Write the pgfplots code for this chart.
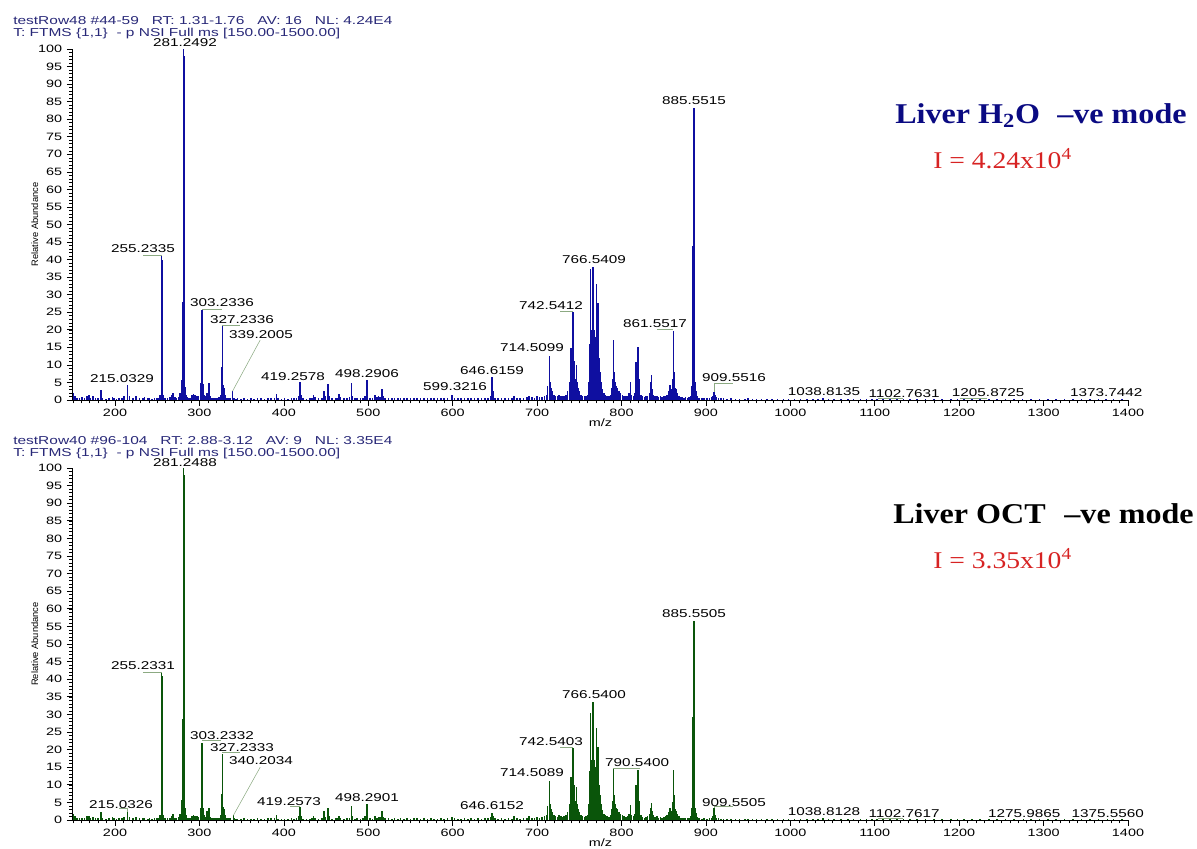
\documentclass[border=0pt]{standalone}
\usepackage{fontspec}
\setmainfont{Liberation Sans}[FakeStretch=1.35]
\newfontfamily\ttlfont{Liberation Serif}[FakeStretch=1.12]
\newfontfamily\ifont{Liberation Serif}[FakeStretch=1.15]
\newfontfamily\ylabfont{Liberation Sans}
\usepackage{pgfplots}
\pgfplotsset{compat=1.18}
\definecolor{specblue}{RGB}{15,15,160}
\definecolor{specgreen}{RGB}{10,85,10}
\definecolor{hdr}{RGB}{40,40,120}
\definecolor{ttlblue}{RGB}{10,10,130}
\definecolor{ired}{RGB}{215,35,35}
\definecolor{lead}{RGB}{140,170,130}
\pgfplotsset{msaxis/.style={
  scale only axis, width=791.4pt, anchor=south west,
  xmin=150, xmax=1400, ymin=0, ymax=100,
  axis x line=bottom, axis y line=left, axis line style={-, line width=0.6pt},
  xtick={200,300,...,1400}, minor xtick={150,160,...,1400},
  ytick={0,5,...,100}, minor ytick={0,1,...,100},
  tick align=outside, major tick length=4.5pt, minor tick length=2.5pt,
  tick style={black, line width=0.5pt}, minor tick style={line width=0.4pt},
  tick label style={font=\fontsize{8}{9}\selectfont},
  xticklabel style={yshift=1.5pt},
  /pgf/number format/assume math mode=true,
  /pgf/number format/1000 sep={},
  scaled ticks=false,
  xlabel={m/z}, xlabel style={font=\fontsize{8}{9}\selectfont, at={(axis description cs:0.5,0)}, anchor=center, yshift=-17pt},
  ylabel={Relative Abundance}, ylabel style={font=\ylabfont\fontsize{7}{8}\selectfont, at={(axis description cs:-0.036,0.5)}, anchor=center},
  clip=false,
}}
\tikzset{pk/.style={font=\fontsize{8.5}{9}\selectfont, inner sep=0pt, anchor=center},
ld/.style={lead, line width=0.4pt}}
\begin{document}
\begin{tikzpicture}
\useasboundingbox (0,0) rectangle (897.75pt,636.75pt);
% ---------------- top panel ----------------
\begin{axis}[msaxis, height=263.25pt, at={(54.6pt,336.75pt)}]
\addplot[ycomb, specblue, line width=1.2pt, no markers] coordinates {
(151,1.9) (152.5,1.2) (155,0.6) (158,0.5) (161,0.8) (164,0.5) (167,1.2) (169,1.5) (171,0.7) (174,1.0) (177,0.6) (180,0.5) (183.1,2.8) (185,0.6) (189,0.4) (193,0.6) (197,0.9) (199,0.5) (202,0.4) (205,0.5) (208,0.6) (211,1.0) (215.03,4.3) (217,1.2) (221,0.6) (225,1.0) (229,0.5) (233,0.6) (235,0.8) (239,0.5) (241,0.7) (244,0.4) (247,0.6) (249,0.5) (251,0.6) (253.2,1.5) (254.9,7) (255.1,16.4) (255.23,41.3) (255.4,40) (255.6,7) (256.24,6.5) (257.2,1.5) (259,0.5) (262,0.6) (265,0.8) (267,1.5) (269,2.0) (271,0.8) (273,0.6) (275,0.9) (277.2,2.0) (279.23,5.7) (279.5,3) (280.3,2.5) (280.6,28) (280.9,68) (281.25,100) (281.6,98) (281.9,20) (282.25,20.9) (282.5,10) (283.26,3.8) (284.3,1.5) (285.5,0.8) (287,0.6) (289,0.7) (291,1.3) (293,1.6) (295,1.5) (297,1.2) (299,1.0) (301.2,4.8) (302,1.5) (303.0,22) (303.23,25.6) (303.5,25) (304.24,4.5) (305.2,1.5) (307,1.0) (309.2,2.0) (311.2,4.7) (312,1.2) (313,1.0) (315,0.6) (317,0.6) (319,0.5) (321,0.6) (323,0.8) (325.2,1.5) (326.8,9.5) (327.23,21.3) (327.5,20.5) (328.24,4.2) (329.2,3.5) (330,1.5) (331,1.0) (333,0.6) (335,0.5) (337,0.6) (339.2,2.5) (341,0.6) (343,0.4) (345,0.5) (349,0.4) (353,0.5) (357,0.4) (361,0.5) (365,0.4) (369,0.6) (373,0.5) (377,0.4) (381,0.5) (385,0.6) (389,0.6) (391.3,1.6) (393,0.5) (397,0.4) (401,0.5) (405,0.4) (409,0.6) (412,0.5) (415,0.6) (417.2,1.2) (419.26,5.2) (420.3,1.5) (423,0.5) (427,0.4) (431,0.5) (433,0.6) (435.2,1.5) (437,0.8) (441,0.5) (445,0.6) (447.3,2.6) (449,1.0) (452.3,4.5) (453.3,1.2) (457,0.5) (461,0.6) (463,0.7) (465.3,1.7) (467,0.8) (471,0.5) (475,0.6) (478,0.8) (480.3,4.7) (481.3,1.2) (484,0.5) (487,0.6) (491,0.5) (494,0.7) (496.3,1.2) (498.29,5.7) (499.3,1.6) (502,0.6) (505,0.5) (508.3,1.5) (510,0.8) (512,1.0) (514,0.9) (516.3,3.1) (517.3,1.0) (520,0.6)
(524,0.7) (528,0.5) (531,0.6) (535,0.5) (538,0.7) (542,0.5) (546,0.6) (550,0.5) (554,0.7) (558,0.6) (562,0.5) (566,0.6) (570,0.5) (574,0.6) (578,0.5) (582,0.5) (586,0.6) (590,0.5) (594,0.6) (599.32,1.5) (602,0.6) (606,0.5) (610,0.5) (614,0.6) (618,0.5) (622,0.7) (626,0.5) (630,0.6) (634,0.5) (638,0.6) (642,0.7) (645,1.0) (646.62,6.5) (647.6,2.5) (650,0.6) (654,0.5) (658,0.6) (662,0.5) (666,0.6) (670,0.5) (672.5,1.2) (676,0.6) (680,0.5) (684,0.7) (688,0.8) (690.5,1.2) (694,0.8) (697,0.7) (700,1.0) (703,0.8) (706,0.9) (709,1.2) (711,1.5) (712.5,4) (714.51,12.5) (715.5,5) (716.5,3.5) (718,2.5) (720,1.5) (722,1.2) (724,1.0) (726,1.5) (728,1.2) (730,1.0) (732,1.2) (734,1.5) (736,2.5) (738.5,5) (740.52,14.7) (741.5,8) (742.54,25.2) (743.5,11) (744.5,10.9) (745.5,6) (746.5,10) (747.5,5) (748.5,3.5) (750,2.5) (752,1.5) (754,1.2) (756,1.0) (758,1.2) (760,1.5) (761.5,5) (762.5,16) (763.5,37.2) (764.5,20) (765.5,18.5) (766.54,38) (767.5,20) (768.5,15) (769.5,18) (770.5,33) (771.5,15) (772.5,27.5) (773.5,12) (774.5,8) (775.5,5) (777,3) (779,2) (781,1.5) (783,1.2) (785,1.0) (787,1.5) (788.5,3.5) (789.5,6) (790.54,17) (791.5,8) (792.5,5) (793.5,4) (795,3.5) (797,2.5) (799,2) (801,1.5) (803,1.2) (805,1.0) (807,1.2) (809,2) (810.5,5.2) (812,1.5) (814,1.2) (816,2) (817.5,10.9) (818.5,8) (819.5,15.2) (820.5,6) (821.5,3) (823,1.5) (825,1) (827,0.8) (829,1.0) (831,1.2) (833,2) (834.5,5) (835.5,7.1) (836.5,3) (838,1.5) (840,1.0) (842,1.2) (844,0.8) (846,1.0) (848,0.8) (850,1.0) (852,1.2) (854,1.5) (856,2.5) (857.5,4.3) (859,3) (860.5,6) (861.55,19.7) (862.5,8) (863.5,3.5) (865,3.0) (866,2) (868,1.2) (870,0.8) (872,0.8) (874,0.6) (876,0.8) (878,0.7) (880,0.8) (882,1.2) (883.5,4) (884.5,12) (884.9,44) (885.2,53) (885.55,83.2) (885.9,81) (886.3,20) (886.7,12) (887.5,5) (888.5,2.5) (890,1.0) (892,0.6) (895,0.5) (898,0.6) (901,0.5) (904,0.6) (907,0.8) (908.5,1.2) (909.55,2.4) (910.5,1.5) (912,0.8) (915,0.6) (918,0.5) (921,0.5) (925,0.4) (930,0.5) (935,0.4) (940,0.3) (946,0.4) (950,0.5) (955,0.3) (960,0.4) (966,0.3) (972,0.3) (978,0.4) (985,0.3) (992,0.3) (998,0.3) (1005,0.3) (1012,0.3) (1020,0.3) (1027,0.3) (1033,0.3) (1038.81,0.7) (1045,0.3) (1052,0.3) (1060,0.3) (1068,0.3) (1075,0.3) (1083,0.3) (1090,0.3) (1097,0.3) (1102.76,0.4) (1110,0.3) (1118,0.3) (1126,0.3) (1134,0.3) (1142,0.3) (1150,0.3) (1160,0.3) (1170,0.3) (1180,0.3) (1190,0.3) (1198,0.3) (1205.87,0.4) (1215,0.3) (1225,0.3) (1235,0.3) (1245,0.3) (1255,0.3) (1265,0.3) (1275,0.3) (1285,0.3) (1295,0.3) (1305,0.3) (1315,0.3) (1325,0.3) (1335,0.3) (1345,0.3) (1355,0.3) (1365,0.3) (1373.74,0.4) (1383,0.3) (1393,0.3)
};
% leaders
\draw[ld] (axis cs:233,41.3) -- (axis cs:255.2,41.3);
\draw[ld] (axis cs:303.2,25.9) -- (axis cs:326.4,25.9);
\draw[ld] (axis cs:327.2,21.2) -- (axis cs:348,21.2);
\draw[ld] (axis cs:339.2,2.5) -- (axis cs:372,17.1);
\draw[ld] (axis cs:727.6,25.2) -- (axis cs:742.5,25.2);
\draw[ld] (axis cs:841.8,20.1) -- (axis cs:861.5,20.1);
\draw[ld] (axis cs:909.5,2.4) -- (axis cs:909.5,4.8) -- (axis cs:932.6,4.8);
\draw[ld] (axis cs:1103.9,0.4) -- (axis cs:1133.5,0.4);
\draw[ld] (axis cs:1201,0.4) -- (axis cs:1233,0.4);
% labels
\node[pk] at (axis cs:282.9,101.7) {281.2492};
\node[pk] at (axis cs:233.2,43.0) {255.2335};
\node[pk] at (axis cs:326.8,27.7) {303.2336};
\node[pk] at (axis cs:350.5,22.8) {327.2336};
\node[pk] at (axis cs:373.0,18.7) {339.2005};
\node[pk] at (axis cs:208.3,6.2) {215.0329};
\node[pk] at (axis cs:410.9,6.8) {419.2578};
\node[pk] at (axis cs:498.6,7.6) {498.2906};
\node[pk] at (axis cs:602.8,3.7) {599.3216};
\node[pk] at (axis cs:646.7,8.5) {646.6159};
\node[pk] at (axis cs:694.1,14.8) {714.5099};
\node[pk] at (axis cs:716.6,26.8) {742.5412};
\node[pk] at (axis cs:767.5,39.9) {766.5409};
\node[pk] at (axis cs:839.8,21.7) {861.5517};
\node[pk] at (axis cs:886,85.2) {885.5515};
\node[pk] at (axis cs:933.3,6.4) {909.5516};
\node[pk] at (axis cs:1040,2.4) {1038.8135};
\node[pk] at (axis cs:1134.8,1.9) {1102.7631};
\node[pk] at (axis cs:1234.3,2.0) {1205.8725};
\node[pk] at (axis cs:1374.2,2.0) {1373.7442};
\end{axis}
% ---------------- bottom panel ----------------
\begin{axis}[msaxis, height=264pt, at={(54.6pt,21.75pt)}]
\addplot[ycomb, specgreen, line width=1.2pt, no markers] coordinates {
(151,1.8) (152.5,1.0) (155,0.5) (158,0.6) (161,0.7) (164,0.5) (167,1.0) (169,1.2) (171,0.6) (174,0.8) (177,0.5) (180,0.6) (183.1,2.2) (185,0.5) (189,0.4) (193,0.5) (197,0.8) (199,0.5) (202,0.4) (205,0.5) (208,0.6) (211,0.8) (215.03,2.4) (217,0.9) (221,0.5) (225,0.8) (229,0.5) (233,0.5) (235,0.7) (239,0.4) (241,0.6) (244,0.4) (247,0.5) (249,0.5) (251,0.6) (253.2,1.3) (254.9,7.1) (255.1,17) (255.23,42) (255.4,41) (255.6,7) (256.24,6.8) (257.2,1.3) (259,0.5) (262,0.6) (265,0.7) (267,1.2) (269,1.6) (271,0.7) (273,0.5) (275,0.8) (277.2,1.8) (279.23,5.7) (279.5,3) (280.3,2.5) (280.6,28.6) (280.9,69) (281.25,100) (281.6,98) (281.9,20) (282.25,19.7) (282.5,10) (283.26,3.5) (284.3,1.4) (285.5,0.7) (287,0.5) (289,0.6) (291,1.0) (293,1.3) (295,1.2) (297,1.0) (299,0.9) (301.2,3.5) (302,1.3) (303.0,18.9) (303.23,21.8) (303.5,21) (304.24,3.5) (305.2,1.3) (307,0.9) (309.2,2.5) (311.2,3.5) (312,1.0) (313,0.8) (315,0.5) (317,0.6) (319,0.5) (321,0.5) (323,0.7) (325.2,1.3) (326.8,7.5) (327.23,18.7) (327.5,18) (328.24,3.8) (329.2,3.0) (330,1.3) (331,0.9) (333,0.5) (335,0.5) (337,0.5) (340.2,1.3) (341,0.5) (343,0.4) (345,0.4) (349,0.4) (353,0.5) (357,0.4) (361,0.4) (365,0.4) (369,0.5) (373,0.4) (377,0.4) (381,0.5) (385,0.5) (389,0.5) (391.3,1.3) (393,0.4) (397,0.4) (401,0.4) (405,0.4) (409,0.5) (412,0.4) (415,0.5) (417.2,1.0) (419.26,3.6) (420.3,1.2) (423,0.4) (427,0.4) (431,0.4) (433,0.5) (435.2,1.2) (437,0.7) (441,0.4) (445,0.5) (447.3,2.5) (449,0.9) (452.3,3.5) (453.3,1.0) (457,0.4) (461,0.5) (463,0.6) (465.3,1.2) (467,0.7) (471,0.4) (475,0.5) (478,0.7) (480.3,4.0) (481.3,1.0) (484,0.4) (487,0.5) (491,0.4) (494,0.6) (496.3,1.0) (498.29,4.5) (499.3,1.3) (502,0.5) (505,0.4) (508.3,1.2) (510,0.7) (512,0.9) (514,0.8) (516.3,2.6) (517.3,0.9) (520,0.5)
(524,0.6) (528,0.4) (531,0.5) (535,0.4) (538,0.6) (542,0.4) (546,0.5) (550,0.4) (554,0.6) (558,0.5) (562,0.4) (566,0.5) (570,0.4) (574,0.5) (578,0.4) (582,0.4) (586,0.5) (590,0.4) (594,0.5) (599.32,0.8) (602,0.5) (606,0.4) (610,0.4) (614,0.5) (618,0.4) (622,0.6) (626,0.4) (630,0.5) (634,0.4) (638,0.5) (642,0.6) (645,0.8) (646.62,2.0) (647.6,1.0) (650,0.5) (654,0.4) (658,0.5) (662,0.4) (666,0.5) (670,0.4) (672.5,1.0) (676,0.5) (680,0.4) (684,0.6) (688,0.7) (690.5,1.0) (694,0.7) (697,0.6) (700,0.9) (703,0.7) (706,0.8) (709,1.0) (711,1.3) (712.5,4) (714.51,11) (715.5,4.5) (716.5,3.2) (718,2.2) (720,1.3) (722,1.0) (724,0.9) (726,1.3) (728,1.0) (730,0.9) (732,1.0) (734,1.3) (736,2.2) (738.5,4.5) (740.52,12.3) (741.5,7) (742.54,20.4) (743.5,10) (744.5,9.5) (745.5,5.5) (746.5,9.5) (747.5,4.5) (748.5,3.2) (750,2.2) (752,1.3) (754,1.0) (756,0.9) (758,1.0) (760,1.3) (761.5,4.5) (762.5,14) (763.5,30.5) (764.5,17) (765.5,15) (766.54,33.6) (767.5,17) (768.5,13) (769.5,15) (770.5,26) (771.5,13) (772.5,20.6) (773.5,10) (774.5,7) (775.5,4.5) (777,2.7) (779,1.8) (781,1.3) (783,1.0) (785,0.9) (787,1.3) (788.5,3.2) (789.5,5.5) (790.54,14.4) (791.5,7) (792.5,4.5) (793.5,3.5) (795,3.2) (797,2.2) (799,1.8) (801,1.3) (803,1.0) (805,0.9) (807,1.0) (809,1.8) (810.5,4.3) (812,1.3) (814,1.0) (816,1.8) (817.5,10) (818.5,7) (819.5,14.2) (820.5,5.5) (821.5,2.7) (823,1.3) (825,0.9) (827,0.7) (829,0.9) (831,1.0) (833,1.8) (834.5,3.5) (835.5,4.7) (836.5,2.5) (838,1.3) (840,0.9) (842,1.0) (844,0.7) (846,0.9) (848,0.7) (850,0.9) (852,1.0) (854,1.3) (856,2.2) (857.5,3.5) (859,2.6) (860.5,5) (861.55,14.2) (862.5,7) (863.5,3.2) (865,2.6) (866,1.8) (868,1.0) (870,0.7) (872,0.7) (874,0.5) (876,0.7) (878,0.6) (880,0.7) (882,1.0) (883.5,3.5) (884.5,10) (884.9,29.3) (885.2,36.4) (885.55,56.6) (885.9,55) (886.3,15) (886.7,6) (887.5,3.5) (888.5,2.0) (890,0.9) (892,0.5) (895,0.4) (898,0.5) (901,0.4) (904,0.5) (907,0.7) (908.5,1.0) (909.55,3.3) (910.5,1.3) (912,0.7) (915,0.5) (918,0.4) (921,0.4) (925,0.4) (930,0.4) (935,0.4) (940,0.3) (946,0.4) (950,0.4) (955,0.3) (960,0.4) (966,0.3) (972,0.3) (978,0.4) (985,0.3) (992,0.3) (998,0.3) (1005,0.3) (1012,0.3) (1020,0.3) (1027,0.3) (1033,0.3) (1038.81,0.6) (1045,0.3) (1052,0.3) (1060,0.3) (1068,0.3) (1075,0.3) (1083,0.3) (1090,0.3) (1097,0.3) (1102.76,0.4) (1110,0.3) (1118,0.3) (1126,0.3) (1134,0.3) (1142,0.3) (1150,0.3) (1160,0.3) (1170,0.3) (1180,0.3) (1190,0.3) (1198,0.3) (1206,0.3) (1215,0.3) (1225,0.3) (1235,0.3) (1245,0.3) (1255,0.3) (1265,0.3) (1275.99,0.4) (1285,0.3) (1295,0.3) (1305,0.3) (1315,0.3) (1325,0.3) (1335,0.3) (1345,0.3) (1355,0.3) (1365,0.3) (1375.56,0.4) (1383,0.3) (1393,0.3)
};
% leaders
\draw[ld] (axis cs:233,42) -- (axis cs:255.2,42);
\draw[ld] (axis cs:303.2,22.7) -- (axis cs:326,22.7);
\draw[ld] (axis cs:327.2,19.1) -- (axis cs:348,19.1);
\draw[ld] (axis cs:340.2,1.3) -- (axis cs:372,15.0);
\draw[ld] (axis cs:205,3.4) -- (axis cs:215,3.4) -- (axis cs:215,2.4);
\draw[ld] (axis cs:407,3.8) -- (axis cs:419.3,3.8);
\draw[ld] (axis cs:727.6,20.8) -- (axis cs:742.5,20.8);
\draw[ld] (axis cs:790.5,14.7) -- (axis cs:822,14.7);
\draw[ld] (axis cs:909.5,3.3) -- (axis cs:909.5,3.8) -- (axis cs:932,3.8);
\draw[ld] (axis cs:1103.9,0.4) -- (axis cs:1133.5,0.4);
% labels
\node[pk] at (axis cs:282.9,101.5) {281.2488};
\node[pk] at (axis cs:233.2,43.8) {255.2331};
\node[pk] at (axis cs:326.8,24.1) {303.2332};
\node[pk] at (axis cs:350.5,20.5) {327.2333};
\node[pk] at (axis cs:373.0,16.8) {340.2034};
\node[pk] at (axis cs:207.1,4.5) {215.0326};
\node[pk] at (axis cs:406.2,5.2) {419.2573};
\node[pk] at (axis cs:498.6,6.4) {498.2901};
\node[pk] at (axis cs:646.7,4.0) {646.6152};
\node[pk] at (axis cs:694.1,13.4) {714.5089};
\node[pk] at (axis cs:716.6,22.4) {742.5403};
\node[pk] at (axis cs:767.5,35.5) {766.5400};
\node[pk] at (axis cs:818.5,16.4) {790.5400};
\node[pk] at (axis cs:886,58.6) {885.5505};
\node[pk] at (axis cs:933.3,5.0) {909.5505};
\node[pk] at (axis cs:1040,2.4) {1038.8128};
\node[pk] at (axis cs:1134.8,1.9) {1102.7617};
\node[pk] at (axis cs:1277.1,1.9) {1275.9865};
\node[pk] at (axis cs:1375.9,1.9) {1375.5560};
\end{axis}
% ---------------- header texts ----------------
\node[anchor=base west, inner sep=0pt, font=\fontsize{8.6}{10}\selectfont, text=hdr] at (9.75pt,618pt) {testRow48 \#44-59\ \ \ RT: 1.31-1.76\ \ \ AV: 16\ \ \ NL: 4.24E4};
\node[anchor=base west, inner sep=0pt, font=\fontsize{8.6}{10}\selectfont, text=hdr] at (9.75pt,609.5pt) {T: FTMS \{1,1\}\ \ - p NSI Full ms [150.00-1500.00]};
\node[anchor=base west, inner sep=0pt, font=\fontsize{8.6}{10}\selectfont, text=hdr] at (9.75pt,303pt) {testRow40 \#96-104\ \ \ RT: 2.88-3.12\ \ \ AV: 9\ \ \ NL: 3.35E4};
\node[anchor=base west, inner sep=0pt, font=\fontsize{8.6}{10}\selectfont, text=hdr] at (9.75pt,294.5pt) {T: FTMS \{1,1\}\ \ - p NSI Full ms [150.00-1500.00]};
% ---------------- right titles ----------------
\node[anchor=base west, inner sep=0pt, font=\ttlfont\bfseries\fontsize{21.5}{24}\selectfont, text=ttlblue] at (671.25pt,544.3pt) {Liver H\textsubscript{2}O\hspace{13pt}–ve mode};
\node[anchor=base west, inner sep=0pt, font=\ifont\fontsize{18}{20}\selectfont, text=ired] at (699.75pt,510.5pt) {I = 4.24x10\textsuperscript{4}};
\node[anchor=base west, inner sep=0pt, font=\ttlfont\bfseries\fontsize{21.5}{24}\selectfont, text=black] at (669.75pt,244.25pt) {Liver OCT\hspace{14pt}–ve mode};
\node[anchor=base west, inner sep=0pt, font=\ifont\fontsize{18}{20}\selectfont, text=ired] at (699.75pt,210.5pt) {I = 3.35x10\textsuperscript{4}};
\end{tikzpicture}
\end{document}
